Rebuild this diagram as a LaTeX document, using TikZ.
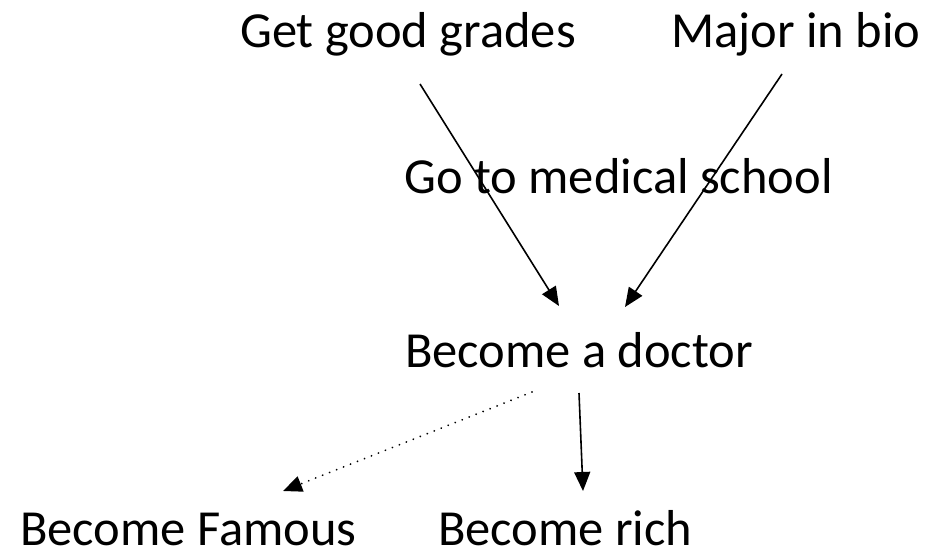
\documentclass[tikz,border=0pt]{standalone}
\usepackage{fontspec}
\setmainfont{Carlito}
\usetikzlibrary{arrows.meta}
\tikzset{
  lbl/.style={anchor=base west, inner sep=0pt, font=\fontsize{50.5pt}{60pt}\selectfont},
  conn/.style={draw=black, line width=1.6pt, -{Triangle[length=19pt,width=16pt]}},
  dotconn/.style={conn, line width=2pt, line cap=round, dash pattern=on 0.01pt off 7.5pt}
}
\begin{document}
\begin{tikzpicture}[x=1pt,y=-1pt]
\useasboundingbox (0,0) rectangle (944,550);
\node[lbl] (grades) at (240,47) {Get good grades};
\node[lbl] (bio) at (671,47) {Major in bio};
\node[lbl] (med) at (404,193) {Go to medical school};
\node[lbl] (doctor) at (405,367) {Become a doctor};
\node[lbl] (famous) at (20,545) {Become Famous};
\node[lbl] (rich) at (438,545) {Become rich};
\coordinate (gs) at (420,84);
\coordinate (ge) at (559,306);
\coordinate (bs) at (782,74);
\coordinate (be) at (625,307);
\coordinate (ds) at (532,392);
\coordinate (de) at (283,491);
\coordinate (rs) at (579,393);
\coordinate (re) at (583,491);
\draw[conn] (gs) -- (ge);
\draw[conn] (bs) -- (be);
\draw[dotconn] (ds) -- (de);
\draw[conn] (rs) -- (re);
\end{tikzpicture}
\end{document}
